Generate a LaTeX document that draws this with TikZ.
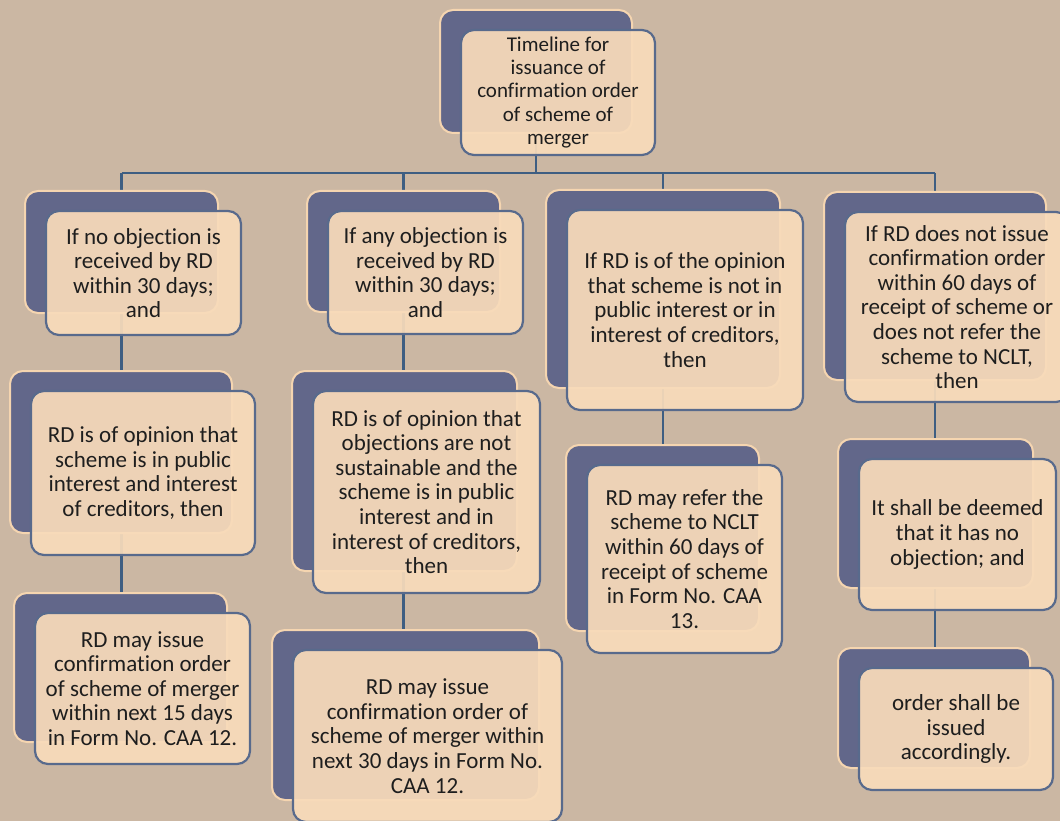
\documentclass[tikz,border=0pt]{standalone}
\usepackage{fontspec}
\setmainfont{Carlito}[Ligatures=NoCommon]
\definecolor{paper}{HTML}{CBB7A3}
\definecolor{slate}{HTML}{62678A}
\definecolor{peach}{HTML}{F8DBBA}
\definecolor{rim}{HTML}{F5D5B0}
\definecolor{edge}{HTML}{586A8C}
\definecolor{wire}{HTML}{3E5E82}
\definecolor{ink}{HTML}{1E1E1E}
\pgfdeclarelayer{paperlayer}
\pgfdeclarelayer{wirelayer}
\pgfsetlayers{paperlayer,wirelayer,main}
\tikzset{
  backbox/.style={draw=rim, line width=2pt, fill=slate, rounded corners=13pt, inner sep=0pt},
  frontbox/.style={draw=edge, line width=2.2pt, fill=peach, fill opacity=0.93, draw opacity=1, text opacity=1,
     rounded corners=13pt, inner sep=2pt, align=center, text=ink, font=\fontsize{23}{24.6}\selectfont},
  topfont/.style={font=\fontsize{21}{23.3}\selectfont},
  wireline/.style={draw=wire, line width=2.6pt}
}
% #1 name, #2 left, #3 top, #4 width, #5 height, #6 options, #7 text
\newcommand\duo[7]{%
  \node[backbox, minimum width={#4pt-2pt}, minimum height={#5pt-2pt}] (#1B)
     at ({#2-21+(#4-2)/2},{#3-20+(#5-2)/2}) {};
  \node[frontbox, minimum width=#4pt, minimum height=#5pt, #6] (#1F)
     at ({#2+#4/2},{#3+#5/2}) {#7};
}
\begin{document}
\begin{tikzpicture}[x=1pt,y=-1pt]
\useasboundingbox (0,0) rectangle (1060,821);
\begin{pgfonlayer}{paperlayer}
  \fill[paper] (0,0) rectangle (1060,821);
\end{pgfonlayer}
\clip (0,0) rectangle (1060,821);

\duo{top}{461}{30}{194}{125}{topfont}{Timeline for\\issuance of\\confirmation order\\of scheme of\\merger}

\duo{c1a}{46}{211}{195}{124}{}{If no objection is\\received by RD\\within 30 days;\\and}
\duo{c1b}{31}{391}{224}{164}{}{RD is of opinion that\\scheme is in public\\interest and interest\\of creditors, then}
\duo{c1c}{35}{613}{215}{151}{}{RD may issue\\confirmation order\\of scheme of merger\\within next 15 days\\in Form No. CAA 12.}

\duo{c2a}{328}{211}{195}{123}{}{If any objection is\\received by RD\\within 30 days;\\and}
\duo{c2b}{313}{391}{227}{202}{}{RD is of opinion that\\objections are not\\sustainable and the\\scheme is in public\\interest and in\\interest of creditors,\\then}
\duo{c2c}{293}{650}{269}{172}{}{RD may issue\\confirmation order of\\scheme of merger within\\next 30 days in Form No.\\CAA 12.}

\duo{c3a}{567}{210}{236}{200}{}{If RD is of the opinion\\that scheme is not in\\public interest or in\\interest of creditors,\\then}
\duo{c3b}{587}{465}{195}{188}{}{RD may refer the\\scheme to NCLT\\within 60 days of\\receipt of scheme\\in Form No. CAA\\13.}

\duo{c4a}{845}{212}{224}{190}{}{If RD does not issue\\confirmation order\\within 60 days of\\receipt of scheme or\\does not refer the\\scheme to NCLT,\\then}
\duo{c4b}{859}{459}{197}{151}{}{It shall be deemed\\that it has no\\objection; and}
\duo{c4c}{859}{668}{194}{122}{}{order shall be\\issued\\accordingly.}

\begin{pgfonlayer}{wirelayer}
  \coordinate (bar) at (0,173);
  \draw[wireline] (topB.center) -- (topB.center |- bar);
  \draw[wireline] (c1aB.center |- bar) -- (c4aB.center |- bar);
  \foreach \c in {c1a,c2a,c3a,c4a}{
    \draw[wireline] (\c B.center |- bar) -- (\c B.center);
  }
  \draw[wireline] (c1aB.center) -- (c1aB.center |- c1cB.center);
  \draw[wireline] (c2aB.center) -- (c2aB.center |- c2cB.center);
  \draw[wireline] (c3aB.center) -- (c3aB.center |- c3bB.center);
  \draw[wireline] (c4aB.center) -- (c4aB.center |- c4cB.center);
\end{pgfonlayer}
\end{tikzpicture}
\end{document}
